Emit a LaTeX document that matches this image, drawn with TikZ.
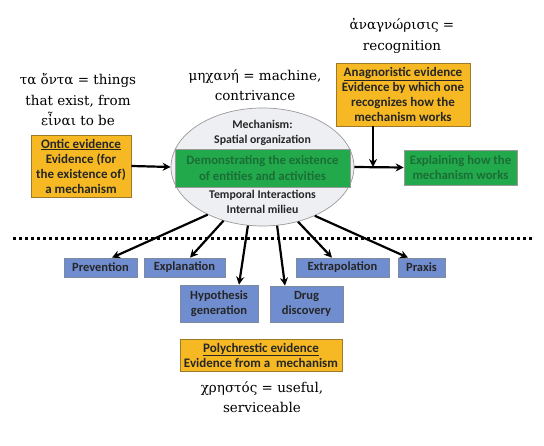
\documentclass[tikz,border=0pt]{standalone}
\usepackage{fontspec}
\setmainfont{DejaVu Serif}
\newfontfamily\serifgreek{DejaVu Serif}
\newfontfamily\boxfont{Carlito}
\usetikzlibrary{shapes.geometric,arrows.meta}
\definecolor{orangefill}{HTML}{F6B923}
\definecolor{orangeline}{HTML}{9C7A2A}
\definecolor{greenfill}{HTML}{22A94B}
\definecolor{greentext}{HTML}{1B6E36}
\definecolor{bluefill}{HTML}{6F8DCF}
\definecolor{blueline}{HTML}{7F8A9E}
\definecolor{ellfill}{HTML}{EDEFF3}
\definecolor{ellline}{HTML}{9A9A9A}
\begin{document}
\begin{tikzpicture}[x=1pt,y=-1pt,
  greek/.style={font=\serifgreek\fontsize{13.5}{20.5}\selectfont, align=center, inner sep=0pt},
  orangebox/.style={draw=orangeline, fill=orangefill, line width=0.8pt, align=center, inner sep=0pt,
     text=black!85, font=\boxfont\bfseries\fontsize{13}{15}\selectfont},
  greenbox/.style={draw=ellline, fill=greenfill, line width=0.6pt, align=center, inner sep=0pt,
     text=greentext, font=\boxfont\bfseries\fontsize{12.8}{15.5}\selectfont},
  bluebox/.style={draw=blueline, fill=bluefill, line width=0.7pt, align=center, inner sep=0pt,
     text=black!85, font=\boxfont\bfseries\fontsize{12.5}{15}\selectfont},
  elltext/.style={align=center, inner sep=0pt, text=black!85, font=\boxfont\bfseries\fontsize{11.8}{14.5}\selectfont},
  arr/.style={line width=2.2pt, -{Stealth[length=8pt,width=8pt]}},
]
\useasboundingbox (0,0) rectangle (544,446);

% Greek labels
\node[greek] (g1) at (78,100) {τα ὄντα = things\\that exist, from\\εἶναι to be};
\node[greek] (g2) at (255,85) {μηχανή = machine,\\contrivance};
\node[greek] (g3) at (402,36) {ἀναγνώρισις =\\recognition};
\node[greek] (g4) at (262,397) {χρηστός = useful,\\serviceable};

% ellipse
\node[ellipse, draw=ellline, fill=ellfill, line width=0.7pt, minimum width=183pt, minimum height=118pt, inner sep=0pt] (ell) at (262.5,167) {};
\node[greenbox, minimum width=175pt, minimum height=38pt] (demo) at (262.5,168) {Demonstrating the existence\\of entities and activities};
\node[elltext] (mech) at (262.5,133) {Mechanism:\\Spatial organization};
\node[elltext] (temp) at (262.5,202) {Temporal Interactions\\Internal milieu};

% orange boxes
\node[orangebox, minimum width=100pt, minimum height=62pt] (ontic) at (81,166) {\underline{Ontic evidence}\\Evidence (for\\the existence of)\\a mechanism};
\node[orangebox, minimum width=134pt, minimum height=63pt] (anag) at (403,94.5) {\underline{Anagnoristic evidence}\\Evidence by which one\\recognizes how the\\mechanism works};
\node[orangebox, minimum width=162pt, minimum height=32pt] (poly) at (261,355) {\underline{Polychrestic evidence}\\Evidence from a\ \ mechanism};

% explaining box
\node[greenbox, minimum width=113pt, minimum height=35pt] (expl) at (460.5,167.5) {Explaining how the\\mechanism works};

% blue boxes
\node[bluebox, minimum width=73pt, minimum height=19pt] (prev) at (100.5,267.5) {Prevention};
\node[bluebox, minimum width=81pt, minimum height=19pt] (expn) at (184.5,267.5) {Explanation};
\node[bluebox, minimum width=78pt, minimum height=37pt] (hyp) at (219,303.5) {Hypothesis\\generation};
\node[bluebox, minimum width=73pt, minimum height=36pt] (drug) at (306.5,304) {Drug\\discovery};
\node[bluebox, minimum width=93pt, minimum height=19pt] (extra) at (342.5,267.5) {Extrapolation};
\node[bluebox, minimum width=47pt, minimum height=19pt] (prax) at (421.5,267.5) {Praxis};

% dotted separator
\coordinate (dl) at (13,239);
\coordinate (dr) at (532,239);
\draw[line width=3pt, dash pattern=on 3pt off 3pt] (dl) -- (dr);

% arrows
\draw[arr] (ontic.east) -- (ell.west);
\coordinate (join) at (373,167);
\draw[arr] (ell.east) -- (expl.west);
\draw[arr] (anag.south -| join) -- (join);

\draw[arr] (ell.221) -- (prev.north -| 112,0);
\draw[arr] (ell.234) -- (expn.north -| 190,0);
\draw[arr] (ell.256) -- (hyp.north -| 239,0);
\draw[arr] (ell.284) -- (drug.north -| 285,0);
\draw[arr] (ell.303) -- (extra.north -| 332,0);
\draw[arr] (ell.317) -- (prax.north -| 408,0);
\end{tikzpicture}
\end{document}
